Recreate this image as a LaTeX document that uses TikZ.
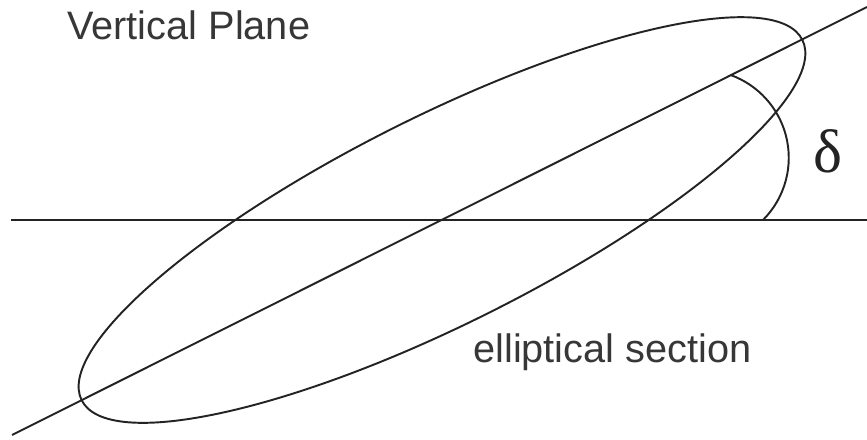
\documentclass[tikz,border=0pt]{standalone}
\usepackage{fontspec}
\setmainfont{Liberation Sans}
\newfontfamily\greekfont{Liberation Serif}
\usepackage{tikz}
\definecolor{ink}{RGB}{35,35,35}
\definecolor{labelgray}{RGB}{55,55,55}
\tikzset{
  line/.style={ink,line width=1.1pt},
  caption/.style={color=labelgray,font=\fontsize{22.6}{26}\selectfont,inner sep=0pt}
}

\begin{document}
\begin{tikzpicture}[x=0.02cm,y=0.02cm]
    \useasboundingbox (0,0) rectangle (867,440);
    \coordinate (O) at (442,220);
    \coordinate (arcfoot) at (763,220);
    % horizontal plane and inclined trace
    \draw[line] (11,220) -- (867,220);
    \draw[line] (12,5) -- (867,433);
    % elliptical section
    \draw[line,rotate around={26.57:(O)}] (O) ellipse [x radius=8.06cm, y radius=2.08cm];
    % angle arc
    \draw[line] (arcfoot) arc[start angle=-45, end angle=70, radius=1.76cm];
    % labels
    \node[caption,anchor=base west] (plane) at (67,400) {Vertical Plane};
    \node[caption,anchor=base west] (section) at (473,77) {elliptical section};
    \node[color=ink,inner sep=0pt,anchor=base,font=\greekfont\fontsize{35}{38}\selectfont] (delta) at (828,267) {δ};
  \end{tikzpicture}
\end{document}
